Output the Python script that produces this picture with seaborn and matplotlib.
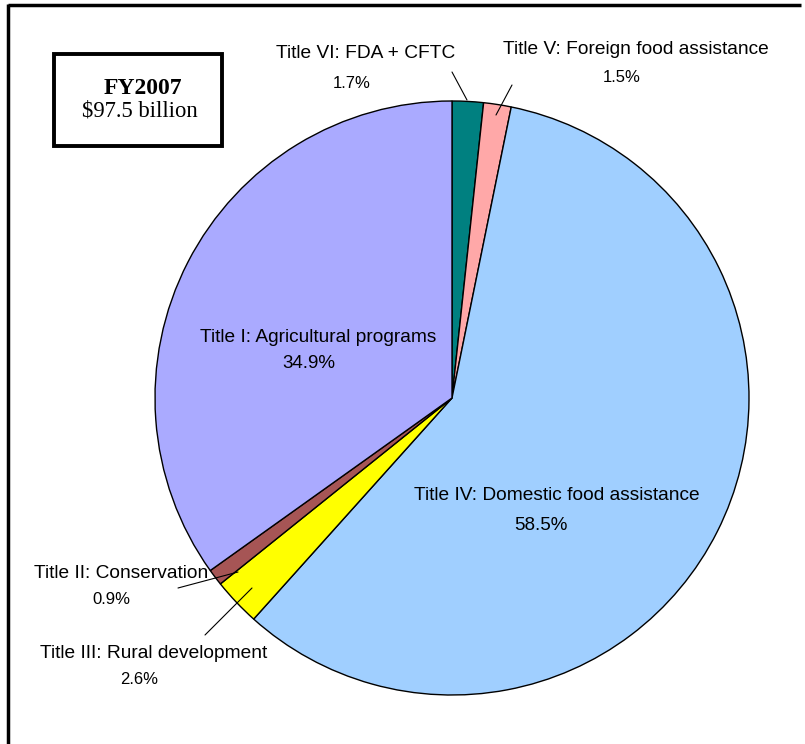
import matplotlib
matplotlib.use("Agg")
import matplotlib.pyplot as plt
import seaborn as sns
from matplotlib.patches import Rectangle

# FY2007 farm bill spending shares, clockwise from 12 o'clock
titles = ["Title VI: FDA + CFTC", "Title V: Foreign food assistance",
          "Title IV: Domestic food assistance", "Title III: Rural development",
          "Title II: Conservation", "Title I: Agricultural programs"]
shares = [1.7, 1.5, 58.5, 2.6, 0.9, 34.9]
pct_labels = ["1.7%", "1.5%", "58.5%", "2.6%", "0.9%", "34.9%"]
colors = sns.color_palette(["#008080", "#FFA8A8", "#A0CFFF", "#FFFF00", "#A65555", "#AAAAFF"])

sns.set_style("white")
plt.rcParams["font.family"] = ["Liberation Sans", "DejaVu Sans"]

W, H = 805, 744
fig = plt.figure(figsize=(W / 100, H / 100), dpi=100)
ax = fig.add_axes([0, 0, 1, 1])

ax.pie(shares, colors=colors, startangle=90, counterclock=False,
       center=(452, H - 398), radius=297,
       wedgeprops=dict(edgecolor="black", linewidth=1.0))
ax.set_xlim(0, W)
ax.set_ylim(0, H)
ax.set_aspect("auto")
ax.axis("off")

def y(v):
    return H - v

fs = 13.8
narrow = ["Liberation Sans Narrow", "Liberation Sans"]
# label positions (pixel coords from top-left) and percent font sizes
label_pos = {
    0: ((366, 54), (352, 83), 12),
    1: ((636, 50), (622, 78), 12),
    2: ((557, 496), (541, 525), 13.5),
    3: ((154, 653), (139, 680), 12),
    4: ((121, 573), (111, 600), 12),
    5: ((318, 338), (309, 363), 13.5),
}
for i, ((tx, ty), (px, py), pfs) in label_pos.items():
    ax.text(tx, y(ty), titles[i], ha="center", va="center", fontsize=fs, color="black")
    ax.text(px, y(py), pct_labels[i], ha="center", va="center", fontsize=pfs,
            color="black", family=narrow)

# leader lines
leaders = [((452, 72), (467, 100)), ((512, 85), (496, 115)),
           ((178, 588), (238, 572)), ((205, 635), (252, 588))]
for (x0, y0), (x1, y1) in leaders:
    ax.plot([x0, x1], [y(y0), y(y1)], color="black", linewidth=0.8)

# title box
ax.add_patch(Rectangle((54, y(146)), 168, 92, facecolor="white", edgecolor="black", linewidth=2.8))
ax.text(143, y(88), "FY2007", ha="center", va="center", fontsize=17, fontweight="bold",
        family="Liberation Serif", color="black")
ax.text(140, y(111), "$97.5 billion", ha="center", va="center", fontsize=16.3,
        family="Liberation Serif", color="black")

# outer frame (top and left edges)
ax.plot([8, 801], [y(5), y(5)], color="black", linewidth=2.5, solid_capstyle="butt")
ax.plot([8, 8], [y(4), 0], color="black", linewidth=2.5, solid_capstyle="butt")

fig.savefig("out.png", dpi=100, facecolor="white")
